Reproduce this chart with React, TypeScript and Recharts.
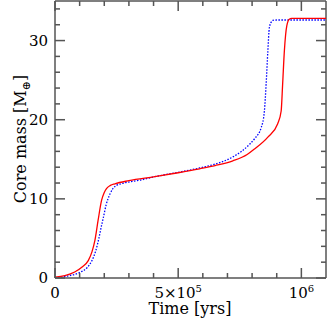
import React from "react";
import { LineChart, Line, XAxis, YAxis, ReferenceLine } from "recharts";

// time in years, core mass in Earth masses
const redTime = [0, 4e4, 8e4, 1.1e5, 1.35e5, 1.5e5, 1.62e5, 1.75e5, 1.89e5, 2.0e5, 2.09e5, 2.25e5, 2.43e5, 3.0e5, 4.05e5, 5.0e5, 5.87e5, 6.5e5, 7.22e5, 7.8e5, 8.1e5, 8.64e5, 9.04e5, 9.18e5, 9.24e5, 9.31e5, 9.41e5, 9.51e5, 9.6e5, 1.1e6];
const redMass = [0.1, 0.3, 0.76, 1.4, 2.2, 3.3, 4.75, 7.3, 9.8, 10.8, 11.3, 11.7, 11.9, 12.3, 12.8, 13.3, 13.8, 14.2, 14.8, 15.6, 16.3, 17.8, 19.5, 21.1, 24.5, 28.7, 31.9, 32.7, 32.8, 32.8];

const blueTime = [0, 5e4, 1.0e5, 1.3e5, 1.5e5, 1.65e5, 1.78e5, 1.88e5, 1.96e5, 2.08e5, 2.23e5, 2.35e5, 2.5e5, 2.8e5, 3.5e5, 4.05e5, 5.0e5, 5.87e5, 6.5e5, 7.22e5, 7.9e5, 8.1e5, 8.37e5, 8.5e5, 8.57e5, 8.64e5, 8.7e5, 8.77e5, 8.84e5, 9.0e5, 1.1e6];
const blueMass = [0.05, 0.25, 0.7, 1.3, 2.2, 3.4, 5.0, 6.5, 7.6, 9.3, 10.6, 11.3, 11.7, 12.0, 12.4, 12.8, 13.35, 13.9, 14.4, 15.3, 16.9, 17.6, 19.0, 21.1, 24.5, 28.7, 31.6, 32.3, 32.55, 32.6, 32.6];

const xTicks = [0, 1e5, 2e5, 3e5, 4e5, 5e5, 6e5, 7e5, 8e5, 9e5, 1e6];
const xMajor = [0, 5e5, 1e6];
const yTicks = [0, 2, 4, 6, 8, 10, 12, 14, 16, 18, 20, 22, 24, 26, 28, 30, 32, 34];
const yMajor = [0, 10, 20, 30];

const X_MAX = 1.1e6;
const Y_MAX = 35;

const redData = redTime.map((t, i) => ({ t, m: redMass[i] }));
const blueData = blueTime.map((t, i) => ({ t, m: blueMass[i] }));

const font = "'DejaVu Serif', serif";
const frame = "#555";

const xLabel = (v: number) => {
  if (v === 0) return <tspan>0</tspan>;
  if (v === 5e5)
    return (
      <>
        <tspan>5×10</tspan>
        <tspan dy={-6} fontSize={10}>5</tspan>
      </>
    );
  return (
    <>
      <tspan>10</tspan>
      <tspan dy={-6} fontSize={10}>6</tspan>
    </>
  );
};

// inward tick marks drawn as thin rects at the position the axis gives
const BottomTick = (props: any) => {
  const { x, y, payload } = props;
  const major = xMajor.includes(payload.value);
  const len = major ? 10 : 5;
  return (
    <g>
      <rect x={x - 0.75} y={y - len} width={1.5} height={len} fill={frame} />
      {major && (
        <text x={x} y={y + 20} textAnchor="middle" fontSize={15} fontFamily={font} fill="#000">
          {xLabel(payload.value)}
        </text>
      )}
    </g>
  );
};

const TopTick = (props: any) => {
  const { x, y, payload } = props;
  const len = xMajor.includes(payload.value) ? 10 : 5;
  return <rect x={x - 0.75} y={y} width={1.5} height={len} fill={frame} />;
};

const LeftTick = (props: any) => {
  const { x, y, payload } = props;
  const major = yMajor.includes(payload.value);
  const len = major ? 10 : 5;
  return (
    <g>
      <rect x={x} y={y - 0.75} width={len} height={1.5} fill={frame} />
      {major && (
        <text x={x - 7} y={y + 5} textAnchor="end" fontSize={15} fontFamily={font} fill="#000">
          {payload.value}
        </text>
      )}
    </g>
  );
};

const RightTick = (props: any) => {
  const { x, y, payload } = props;
  const len = yMajor.includes(payload.value) ? 10 : 5;
  return <rect x={x - len} y={y - 0.75} width={len} height={1.5} fill={frame} />;
};

export default function App() {
  return (
    <div style={{ position: "absolute", left: 0, top: 0, width: 327, height: 323, background: "#fff" }}>
      <LineChart width={327} height={323} margin={{ top: 0, right: 0, bottom: 0, left: 0 }}>
        <XAxis
          dataKey="t"
          type="number"
          domain={[0, X_MAX]}
          allowDataOverflow
          ticks={xTicks}
          interval={0}
          height={45}
          tickSize={0}
          tickMargin={0}
          tickLine={false}
          stroke={frame}
          strokeWidth={1.5}
          tick={<BottomTick />}
        />
        <XAxis
          xAxisId="top"
          orientation="top"
          dataKey="t"
          type="number"
          domain={[0, X_MAX]}
          allowDataOverflow
          ticks={xTicks}
          interval={0}
          height={1}
          tickSize={0}
          tickMargin={0}
          tickLine={false}
          axisLine={false}
          tick={<TopTick />}
        />
        <YAxis
          type="number"
          domain={[0, Y_MAX]}
          allowDataOverflow
          ticks={yTicks}
          interval={0}
          width={55}
          tickSize={0}
          tickMargin={0}
          tickLine={false}
          stroke={frame}
          strokeWidth={1.5}
          tick={<LeftTick />}
        />
        <YAxis
          yAxisId="right"
          orientation="right"
          type="number"
          domain={[0, Y_MAX]}
          allowDataOverflow
          ticks={yTicks}
          interval={0}
          width={1}
          tickSize={0}
          tickMargin={0}
          tickLine={false}
          axisLine={false}
          tick={<RightTick />}
        />
        <ReferenceLine x={X_MAX} stroke={frame} strokeWidth={1.5} />
        <ReferenceLine y={Y_MAX} stroke={frame} strokeWidth={1.5} />
        <Line
          data={blueData}
          dataKey="m"
          xAxisId="top"
          yAxisId="right"
          type="monotone"
          stroke="#0000ff"
          strokeWidth={1.3}
          strokeDasharray="1.5 1.5"
          dot={false}
          isAnimationActive={false}
        />
        <Line
          data={redData}
          dataKey="m"
          type="monotone"
          stroke="#ff0000"
          strokeWidth={1.3}
          dot={false}
          isAnimationActive={false}
        />
      </LineChart>
      <svg width={327} height={323} style={{ position: "absolute", left: 0, top: 0, pointerEvents: "none" }}>
        <text x={190} y={314} textAnchor="middle" fontSize={16} fontFamily={font} fill="#000">
          Time [yrs]
        </text>
        <text x={26} y={139} transform="rotate(-90 26 139)" textAnchor="middle" fontSize={16} fontFamily={font} fill="#000">
          <tspan>Core mass [M</tspan>
          <tspan fontSize={11} dy={4}>⊕</tspan>
          <tspan dy={-4}>]</tspan>
        </text>
      </svg>
    </div>
  );
}
